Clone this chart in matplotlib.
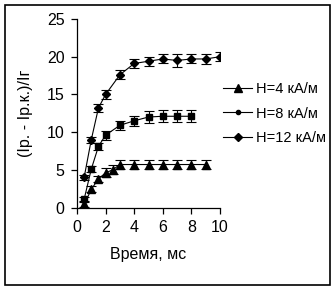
import matplotlib
matplotlib.use("Agg")
import matplotlib.pyplot as plt
from matplotlib.patches import Rectangle
from matplotlib.lines import Line2D

plt.rcParams['font.family'] = ['Liberation Sans', 'DejaVu Sans']

# Data
t4 = [0.5, 1, 1.5, 2, 2.5, 3, 4, 5, 6, 7, 8, 9]
y4 = [0.4, 2.4, 3.8, 4.6, 5.0, 5.7, 5.7, 5.7, 5.7, 5.7, 5.7, 5.7]
e4 = [0.3, 0.4, 0.4, 0.6, 0.6, 0.6, 0.6, 0.6, 0.6, 0.6, 0.6, 0.6]

t8 = [0.5, 1, 1.5, 2, 3, 4, 5, 6, 7, 8]
y8 = [1.1, 5.1, 8.1, 9.6, 10.9, 11.5, 12.0, 12.1, 12.1, 12.1]
e8 = [0.3, 0.4, 0.5, 0.6, 0.6, 0.7, 0.8, 0.8, 0.8, 0.8]

t12 = [0.5, 1, 1.5, 2, 3, 4, 5, 6, 7, 8, 9, 10]
y12 = [4.0, 9.0, 13.2, 15.0, 17.6, 19.1, 19.4, 19.7, 19.5, 19.7, 19.7, 20.0]
e12 = [0.3, 0.4, 0.5, 0.6, 0.6, 0.6, 0.6, 0.6, 0.8, 0.6, 0.7, 0.6]

labels = ['H=4 кА/м', 'H=8 кА/м', 'H=12 кА/м']
xticks = [0, 2, 4, 6, 8, 10]
yticks = [0, 5, 10, 15, 20, 25]

fig = plt.figure(figsize=(3.35, 2.9), dpi=100)
fig.patches.append(Rectangle((5/335, 5/290), 325/335, 280/290, transform=fig.transFigure,
                             fill=False, edgecolor='black', linewidth=1.2))
ax = fig.add_axes([77/335, 1-207.5/290, 143/335, 188.5/290])

kw = dict(color='black', linewidth=0.8, elinewidth=0.8, capsize=3.5, capthick=0.8)
ax.errorbar(t4, y4, yerr=e4, marker='^', markersize=5.5, **kw)
ax.errorbar(t8, y8, yerr=e8, marker='s', markersize=4, **kw)
ax.errorbar(t12, y12, yerr=e12, marker='D', markersize=4.5, **kw)

ax.set_xlim(0, 10)
ax.set_ylim(0, 25)
ax.set_xticks(xticks)
ax.set_yticks(yticks)
for s in ['top', 'right']:
    ax.spines[s].set_visible(False)
for s in ['left', 'bottom']:
    ax.spines[s].set_linewidth(0.9)
ax.tick_params(direction='out', length=4, width=0.9, labelsize=11.5, pad=5)
ax.set_xlabel('Время, мс', fontsize=11.5, labelpad=9)
ax.set_ylabel('(Iр. - Iр.к.)/Iг', fontsize=11.5, labelpad=10)

handles = [Line2D([], [], color='black', lw=0.8, marker='^', markersize=5.5),
           Line2D([], [], color='black', lw=0.8, marker='o', markersize=3),
           Line2D([], [], color='black', lw=0.8, marker='D', markersize=4)]
fig.legend(handles, labels, loc='upper left', bbox_to_anchor=(223/335, 1-82/290),
           frameon=False, fontsize=10.5, handlelength=2.0, handletextpad=0.25,
           labelspacing=0.72, borderpad=0, borderaxespad=0)

fig.savefig('out.png', dpi=100)
